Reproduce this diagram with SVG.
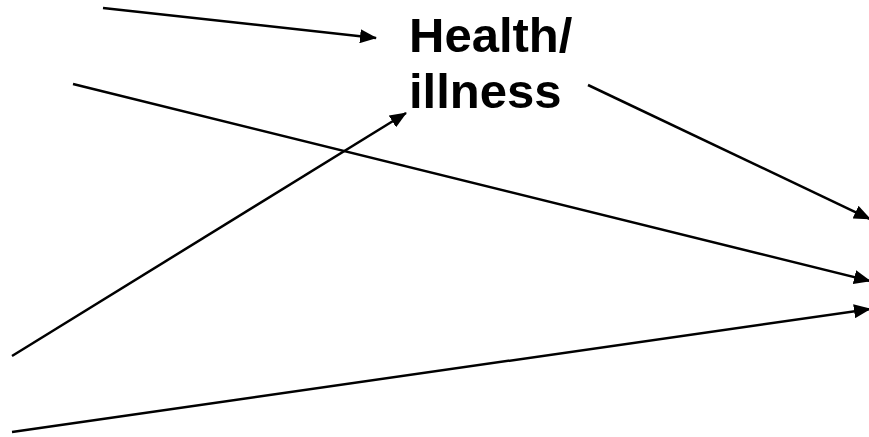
<svg xmlns="http://www.w3.org/2000/svg" width="869" height="437" viewBox="0 0 869 437">
<style>
.c{stroke:#000;stroke-width:2.5;fill:none;marker-end:url(#ah)}
.t{font-family:"Liberation Sans",Arial,sans-serif;font-weight:bold;font-size:49px;fill:#000}
</style>
<defs>
<marker id="ah" markerUnits="userSpaceOnUse" markerWidth="18" markerHeight="14" refX="16" refY="7" orient="auto">
<path d="M0,0 L17,7 L0,14 Z" fill="#000"/>
</marker>
</defs>
<rect width="869" height="437" fill="#fff"/>
<g id="health">
<text class="t" x="409" y="52">Health/</text>
<text class="t" x="409" y="108">illness</text>
</g>
<g id="connectors">
<line class="c" x1="103" y1="8" x2="376" y2="38"/>
<line class="c" x1="73" y1="84" x2="870" y2="281"/>
<line class="c" x1="12" y1="356" x2="406" y2="113"/>
<line class="c" x1="12" y1="432" x2="870" y2="309"/>
<line class="c" x1="588" y1="85" x2="870" y2="219"/>
</g>
</svg>
